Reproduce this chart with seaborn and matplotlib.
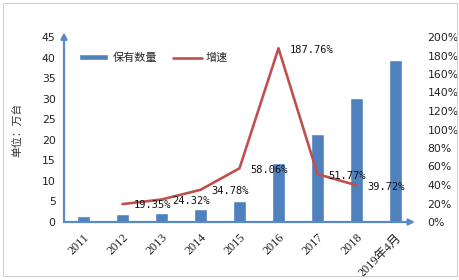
import matplotlib
matplotlib.use("Agg")
import matplotlib.pyplot as plt
import seaborn as sns
import pandas as pd
from matplotlib.patches import Rectangle

years = ["2011", "2012", "2013", "2014", "2015", "2016", "2017", "2018", "2019年4月"]
stock = [1.5, 2.0, 2.3, 3.2, 5.0, 14.4, 21.5, 30.2, 39.4]
growth_years = ["2012", "2013", "2014", "2015", "2016", "2017", "2018"]
growth = [19.35, 24.32, 34.78, 58.06, 187.76, 51.77, 39.72]
left_ticks = [0, 5, 10, 15, 20, 25, 30, 35, 40, 45]
right_ticks = [0, 20, 40, 60, 80, 100, 120, 140, 160, 180, 200]

sns.set_theme(style="white")
plt.rcParams['font.family'] = ['DejaVu Sans', 'Noto Sans CJK SC']

BLUE = "#4F81BD"
RED = "#C0504D"
AXC = "#5A8AC6"

fig = plt.figure(figsize=(4.6, 2.8), dpi=100)
ax = fig.add_axes([64/460, 1-222/280, (415-64)/460, (222-37)/280])

df = pd.DataFrame({"year": years, "stock": stock})
sns.barplot(data=df, x="year", y="stock", color=BLUE, width=0.3, ax=ax,
            saturation=1, label="保有数量", legend=False)
for p in ax.patches:
    cx = p.get_x() + p.get_width() / 2
    p.set_width(0.31)
    p.set_x(cx - 0.155)
ax.set_xlim(-0.5, len(years)-0.5)
ax.set_ylim(0, 45)
ax.set_yticks(left_ticks)
ax.set_yticklabels([str(t) for t in left_ticks], fontsize=7.8, color="#222222")
ax.set_xlabel("")
ax.set_ylabel("单位：万台", family=['Noto Sans CJK SC'], fontsize=7.8, labelpad=14, color="#333333")
ax.tick_params(axis='y', length=0, pad=6)
ax.tick_params(axis='x', length=0, pad=7)
ax.set_xticks(range(len(years)))
ax.set_xticklabels(years, rotation=45, ha='right', rotation_mode='anchor',
                   family=['Liberation Serif', 'Noto Sans CJK SC'], fontsize=8.8, color="#222222")
for s in ax.spines.values():
    s.set_visible(False)

ax2 = ax.twinx()
gx = [years.index(y) for y in growth_years]
gdf = pd.DataFrame({"x": gx, "g": growth})
sns.lineplot(data=gdf, x="x", y="g", color=RED, lw=1.9, ax=ax2, label="增速", legend=False)
ax2.set_ylim(0, 200)
ax2.set_xlim(-0.5, len(years)-0.5)
ax2.set_yticks(right_ticks)
ax2.set_yticklabels([f"{t}%" for t in right_ticks], fontsize=7.8, color="#222222")
ax2.tick_params(axis='y', length=0, pad=9)
ax2.set_ylabel("")
ax2.set_xlabel("")
for s in ax2.spines.values():
    s.set_visible(False)

for x, g in zip(gx, growth):
    ax2.annotate(f"{g:.2f}%", (x, g), xytext=(8, -1), textcoords="offset points",
                 ha="left", va="center", fontsize=7.5, family="DejaVu Sans Mono", color="#111111")

# axis arrows
ax.annotate("", xy=(0, 1.025), xytext=(0, 0), xycoords="axes fraction",
            arrowprops=dict(arrowstyle="-|>", color=AXC, lw=1.6, mutation_scale=9, shrinkA=0, shrinkB=0),
            annotation_clip=False)
ax.annotate("", xy=(1.0, 0), xytext=(0, 0), xycoords="axes fraction",
            arrowprops=dict(arrowstyle="-|>", color=AXC, lw=1.6, mutation_scale=9, shrinkA=0, shrinkB=0),
            annotation_clip=False)

h1, l1 = ax.get_legend_handles_labels()
h2, l2 = ax2.get_legend_handles_labels()
leg = ax.legend(h1 + h2, l1 + l2, loc="upper left", bbox_to_anchor=(0.015, 0.97), ncol=2, frameon=False,
                prop={'family': ['Noto Sans CJK SC'], 'size': 8}, handlelength=2.6, handleheight=0.45,
                columnspacing=1.4, handletextpad=0.4)

fig.patches.append(Rectangle((3/460, 4/280), 454/460, 273/280, transform=fig.transFigure,
                             fill=False, edgecolor="#D0D0D0", lw=0.8))

fig.savefig("out.png", dpi=100)
